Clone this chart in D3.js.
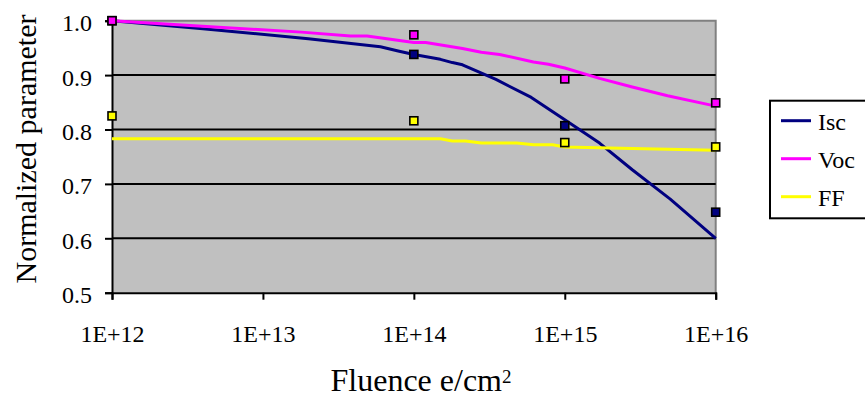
<!DOCTYPE html>
<html>
<head>
<meta charset="utf-8">
<script src="https://cdn.jsdelivr.net/npm/d3@7"></script>
<style>
  html, body { margin: 0; padding: 0; background: #fff; }
  svg { display: block; font-family: "Liberation Serif", "Times New Roman", serif; }
  svg text { font-family: "Liberation Serif", "Times New Roman", serif; }
</style>
</head>
<body>
<svg id="chart" width="865" height="400"></svg>
<script>
// Measured fluences (e/cm^2) and normalized cell parameters
const fluence = [1e12, 1e14, 1e15, 1e16];
const iscPoints = [1.000, 0.938, 0.807, 0.648];
const vocPoints = [1.000, 0.974, 0.893, 0.849];
const ffPoints  = [0.825, 0.816, 0.776, 0.768];

// Model curves
const iscCurveX = [1e12, 4e12, 2e13, 6e13, 8e13, 1e14, 1.5e14, 1.8e14, 2.1e14, 3.5e14, 6e14, 1e15, 1.7e15, 2.8e15, 5e15, 1e16];
const iscCurveY = [1.000, 0.985, 0.967, 0.952, 0.944, 0.938, 0.929, 0.923, 0.919, 0.892, 0.859, 0.818, 0.775, 0.726, 0.672, 0.600];

const vocCurveX = [1e12, 1.8e13, 3.8e13, 4.9e13, 1e14, 1.2e14, 2.1e14, 2.8e14, 3.7e14, 6.2e14, 7.8e14, 1e15, 1.7e15, 2.8e15, 4.8e15, 1e16];
const vocCurveY = [1.000, 0.979, 0.972, 0.972, 0.960, 0.960, 0.949, 0.942, 0.938, 0.924, 0.920, 0.913, 0.894, 0.878, 0.862, 0.843];

const ffCurveX = [1e12, 1.5e14, 1.8e14, 2.2e14, 2.8e14, 4.8e14, 6.2e14, 8.3e14, 1e15, 2.8e15, 1e16];
const ffCurveY = [0.783, 0.783, 0.779, 0.779, 0.775, 0.775, 0.772, 0.772, 0.768, 0.765, 0.762];

const seriesNames = ["Isc", "Voc", "FF"];
const seriesColors = ["#000080", "#ff00ff", "#ffff00"];

const xTicks = [1e12, 1e13, 1e14, 1e15, 1e16];
const xTickLabels = ["1E+12", "1E+13", "1E+14", "1E+15", "1E+16"];
const yTicks = [0.5, 0.6, 0.7, 0.8, 0.9, 1.0];

const series = [
  { name: seriesNames[0], color: seriesColors[0], cx: iscCurveX, cy: iscCurveY, py: iscPoints },
  { name: seriesNames[1], color: seriesColors[1], cx: vocCurveX, cy: vocCurveY, py: vocPoints },
  { name: seriesNames[2], color: seriesColors[2], cx: ffCurveX,  cy: ffCurveY,  py: ffPoints }
];

const FONT = "Liberation Serif, Times New Roman, serif";
const svg = d3.select("#chart");
const plot = { left: 112, top: 20.7, right: 715.7, bottom: 292.7 };

const x = d3.scaleLog().domain([1e12, 1e16]).range([plot.left, plot.right]);
const y = d3.scaleLinear().domain([0.5, 1.0]).range([plot.bottom, plot.top]);

// Plot area background
svg.append("rect")
  .attr("x", plot.left).attr("y", plot.top)
  .attr("width", plot.right - plot.left).attr("height", plot.bottom - plot.top)
  .attr("fill", "#c0c0c0");

// Gray frame on top and right
svg.append("path")
  .attr("d", `M${plot.left},${plot.top}H${plot.right}V${plot.bottom}`)
  .attr("fill", "none").attr("stroke", "#808080").attr("stroke-width", 2);

// Horizontal gridlines
svg.append("g").selectAll("line")
  .data(yTicks.filter(v => v > 0.5 && v < 1.0))
  .join("line")
  .attr("x1", plot.left).attr("x2", plot.right)
  .attr("y1", d => y(d)).attr("y2", d => y(d))
  .attr("stroke", "#000").attr("stroke-width", 2);

// Y axis
const yAxis = svg.append("g")
  .attr("transform", `translate(${plot.left},0)`)
  .call(d3.axisLeft(y).tickValues(yTicks).tickFormat(d3.format(".1f")).tickSize(7).tickPadding(13));
yAxis.attr("font-family", FONT);
yAxis.select(".domain").attr("stroke", "#000").attr("stroke-width", 2);
yAxis.selectAll(".tick line").attr("stroke", "#000").attr("stroke-width", 2);
yAxis.selectAll(".tick text")
  .attr("font-family", FONT).attr("font-size", 24).attr("fill", "#000")
  .attr("dy", "0.42em");

// X axis
const xAxis = svg.append("g")
  .attr("transform", `translate(0,${plot.bottom})`)
  .call(d3.axisBottom(x).tickValues(xTicks).tickFormat((d, i) => xTickLabels[i]).tickSize(7).tickPadding(0));
xAxis.attr("font-family", FONT);
xAxis.select(".domain").attr("stroke", "#000").attr("stroke-width", 2);
xAxis.selectAll(".tick line").attr("stroke", "#000").attr("stroke-width", 2);
xAxis.selectAll(".tick text")
  .attr("font-family", FONT).attr("font-size", 24).attr("fill", "#000")
  .attr("dy", null).attr("y", 49);

// Curves and measured points, one series at a time
const line = d3.line().x(d => x(d[0])).y(d => y(d[1]));
const markerSize = 8;
series.forEach(s => {
  svg.append("path")
    .datum(s.cx.map((v, i) => [v, s.cy[i]]))
    .attr("d", line)
    .attr("fill", "none").attr("stroke", s.color).attr("stroke-width", 3)
    .attr("stroke-linejoin", "round");
  svg.append("g").selectAll("rect")
    .data(fluence.map((v, i) => [v, s.py[i]]))
    .join("rect")
    .attr("x", d => x(d[0]) - markerSize / 2)
    .attr("y", d => y(d[1]) - markerSize / 2)
    .attr("width", markerSize).attr("height", markerSize)
    .attr("fill", s.color).attr("stroke", "#000").attr("stroke-width", 1.6);
});

// Axis titles
svg.append("text")
  .attr("transform", "translate(36,149) rotate(-90)")
  .attr("text-anchor", "middle")
  .attr("font-family", FONT).attr("font-size", 30).attr("fill", "#000")
  .text("Normalized parameter");

const xTitle = svg.append("text")
  .attr("x", 421).attr("y", 391)
  .attr("text-anchor", "middle")
  .attr("font-family", FONT).attr("font-size", 32).attr("fill", "#000");
xTitle.append("tspan").text("Fluence e/cm");
xTitle.append("tspan").attr("font-size", 19).attr("dy", -8).text("2");

// Legend
const legend = svg.append("g");
legend.append("rect")
  .attr("x", 770).attr("y", 100.7).attr("width", 100).attr("height", 117.6)
  .attr("fill", "#fff").attr("stroke", "#000").attr("stroke-width", 2);
const legendY = d3.scalePoint().domain(seriesNames).range([120.7, 196.7]);
series.forEach(s => {
  legend.append("line")
    .attr("x1", 781).attr("x2", 811)
    .attr("y1", legendY(s.name)).attr("y2", legendY(s.name))
    .attr("stroke", s.color).attr("stroke-width", 3);
  legend.append("text")
    .attr("x", 818).attr("y", legendY(s.name) + 9)
    .attr("font-family", FONT).attr("font-size", 24).attr("fill", "#000")
    .text(s.name);
});
</script>
</body>
</html>
